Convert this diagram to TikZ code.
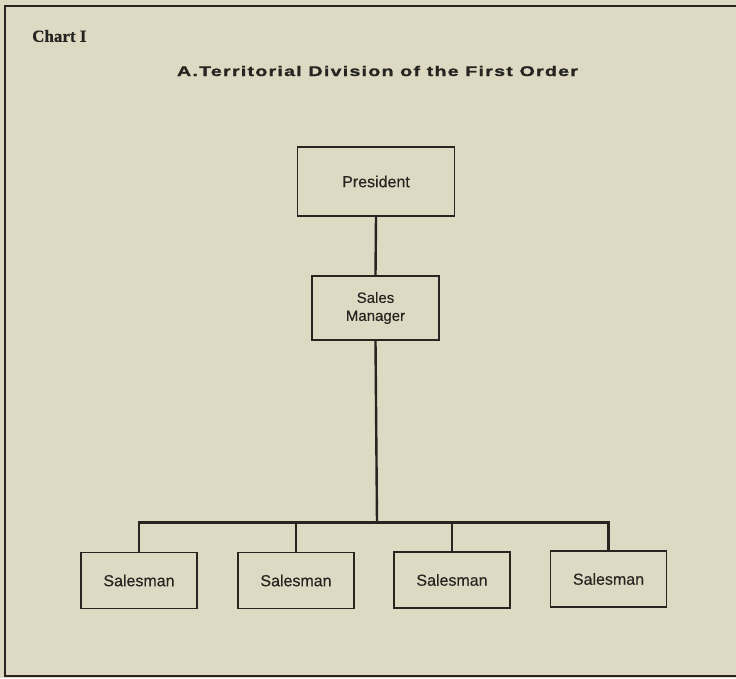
\documentclass[tikz,border=0pt]{standalone}
\usepackage{fontspec}
\setmainfont[FakeBold=0.3]{Liberation Sans}
\newfontfamily\chartfont[FakeBold=0.5]{Liberation Serif}
\newfontfamily\titlefont[FakeStretch=1.4,LetterSpace=9,FakeBold=1.4]{Liberation Sans}
\definecolor{paper}{RGB}{221,217,194}
\definecolor{ink}{RGB}{40,37,32}
\definecolor{textink}{RGB}{38,36,33}

\begin{document}
\begin{tikzpicture}[x=1pt,y=-1pt,
  orgbox/.style={draw=ink, line width=1.8pt, rectangle, inner sep=0pt,
    text=textink, font=\fontsize{16}{19}\selectfont},
  link/.style={draw=ink, line width=2.4pt}]
  % page and frame
  \fill[paper] (0,0) rectangle (736,678);
  \useasboundingbox (0,0) rectangle (736,678);
  \draw[ink, line width=2.6pt] (740,6) -- (5,6) -- (5,676) -- (740,676);

  % headings
  \node[anchor=west, inner sep=0pt, text=textink,
    font=\chartfont\bfseries\fontsize{17}{19}\selectfont]
    (chart) at (32,36) {Chart I};
  \node[text=textink, font=\titlefont\bfseries\fontsize{14}{16}\selectfont]
    (title) at (377.5,71) {A.Territorial Division of the First Order};

  % organisation boxes
  \node[orgbox, minimum width=157pt, minimum height=69pt] (pres) at (376,181.5) {President};
  \node[orgbox, minimum width=127pt, minimum height=64pt, align=center,
    font=\fontsize{15}{18}\selectfont] (mgr) at (375.5,308) {Sales\\Manager};
  \node[orgbox, minimum width=116pt, minimum height=56pt] (s1) at (139,580.5) {Salesman};
  \node[orgbox, minimum width=116pt, minimum height=56pt] (s2) at (296,580.5) {Salesman};
  \node[orgbox, minimum width=116pt, minimum height=56pt] (s3) at (452,580) {Salesman};
  \node[orgbox, minimum width=116pt, minimum height=56pt] (s4) at (608.5,579) {Salesman};

  % connectors
  \coordinate (bus) at (377,522.5);
  \draw[link] (pres.south) -- (mgr.north);
  \draw[link] (mgr.south) -- (bus);
  \draw[link] (s1.north) |- (bus) -| (s4.north);
  \draw[link] (s2.north) -- (s2.north |- bus);
  \draw[link] (s3.north) -- (s3.north |- bus);
\end{tikzpicture}
\end{document}
